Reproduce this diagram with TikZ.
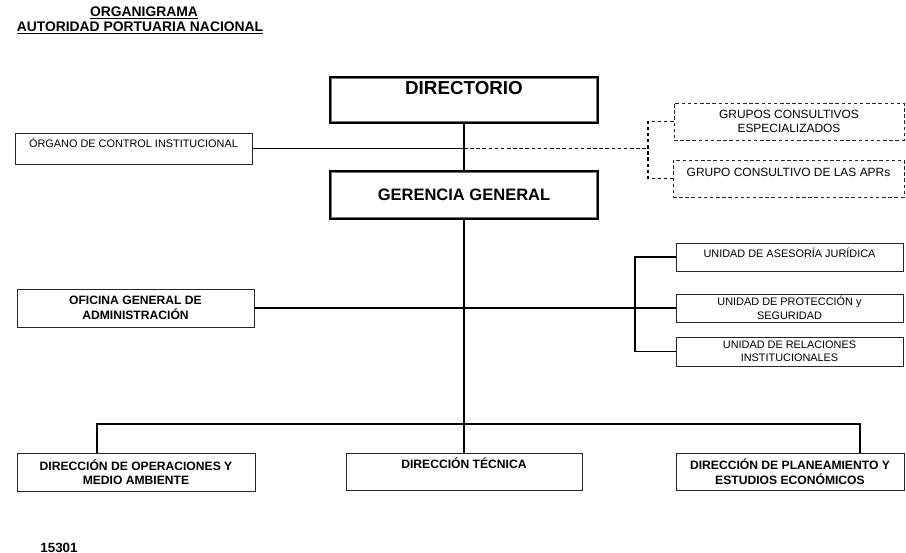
\documentclass[tikz,border=0pt]{standalone}
\usepackage{fontspec}
\setmainfont{Liberation Sans}

\begin{document}
\begin{tikzpicture}[x=0.02cm,y=-0.02cm]
\tikzset{unit/.style = {shape=rectangle,draw=black!85,line width=0.5pt,align=center,inner sep=1pt,font=\fontsize{6.2}{7.6}\selectfont}}
\tikzset{bunit/.style = {unit,font=\fontsize{6.9}{8.2}\selectfont\bfseries}}
\tikzset{advisor/.style = {unit,dash pattern=on 2pt off 1.5pt,font=\fontsize{6.8}{7.8}\selectfont}}
\tikzset{head/.style = {shape=rectangle,draw,line width=1.6pt,inner sep=1pt}}
\tikzset{link/.style = {line width=0.8pt}}
\tikzset{dlink/.style = {line width=0.6pt,dash pattern=on 2pt off 1.5pt}}
\useasboundingbox (0,0) rectangle (906,553);
% title
\node[font=\fontsize{7.9}{9}\selectfont\bfseries] (org) at (144,13) {\underline{ORGANIGRAMA}};
\node[font=\fontsize{7.9}{9}\selectfont\bfseries] (apn) at (140,28) {\underline{AUTORIDAD PORTUARIA NACIONAL}};
% vertices
\node[head,minimum width=5.36cm,minimum height=0.92cm,text depth=13.6pt,
      font=\fontsize{10.7}{12}\selectfont\bfseries] (dir) at (464,100) {DIRECTORIO};
\node[head,minimum width=5.36cm,minimum height=0.96cm,
      font=\fontsize{9.4}{11}\selectfont\bfseries] (ger) at (464,195) {GERENCIA GENERAL};
\node[unit,minimum width=4.74cm,minimum height=0.62cm,text depth=6pt] (oci) at (133.5,148.5) {ÓRGANO DE CONTROL INSTITUCIONAL};
\node[advisor,minimum width=4.6cm,minimum height=0.74cm] (gce) at (789,121.5) {GRUPOS CONSULTIVOS\\ESPECIALIZADOS};
\node[advisor,minimum width=4.62cm,minimum height=0.74cm,text depth=7pt] (gca) at (788.5,178.5) {GRUPO CONSULTIVO DE LAS APRs};
\node[bunit,minimum width=4.74cm,minimum height=0.76cm] (oga) at (135.5,308) {OFICINA GENERAL DE\\ADMINISTRACIÓN};
\node[unit,minimum width=4.54cm,minimum height=0.56cm,text depth=4.5pt] (uaj) at (789.5,257) {UNIDAD DE ASESORÍA JURÍDICA};
\node[unit,minimum width=4.54cm,minimum height=0.56cm] (upr) at (789.5,308) {UNIDAD DE PROTECCIÓN y\\SEGURIDAD};
\node[unit,minimum width=4.54cm,minimum height=0.58cm] (uri) at (789.5,351.5) {UNIDAD DE RELACIONES\\INSTITUCIONALES};
\node[bunit,minimum width=4.76cm,minimum height=0.76cm] (dom) at (136,472) {DIRECCIÓN DE OPERACIONES Y\\MEDIO AMBIENTE};
\node[bunit,minimum width=4.72cm,minimum height=0.74cm,text depth=9.6pt] (dte) at (464,471.5) {DIRECCIÓN TÉCNICA};
\node[bunit,minimum width=4.56cm,minimum height=0.74cm] (dpe) at (790,471.5) {DIRECCIÓN DE PLANEAMIENTO Y\\ESTUDIOS ECONÓMICOS};
\node[font=\fontsize{7.6}{9}\selectfont\bfseries] (num) at (59,548) {15301};
% inner frame of the two heads
\foreach \n in {dir,ger}
  \draw[line width=0.4pt,black!55] ([shift={(3,3)}]\n.north west) rectangle ([shift={(-3,-3)}]\n.south east);
% junctions
\coordinate (j1) at (464,148.5);
\coordinate (gb) at (648,148.5);
\coordinate (ub) at (635,308);
\coordinate (bl) at (97,424);
\coordinate (br) at (860,424);
%edges
\draw[link] (dir.south) -- (ger.north);
\draw[link] (oci.east) -- (j1);
\draw[dlink] (j1) -- (gb);
\draw[dlink] (gce.west) -- (gce.west -| gb) -- (gca.west -| gb) -- (gca.west);
\draw[link] (ger.south) -- (dte.north);
\draw[link] (oga.east) -- (ub);
\draw[link] (uaj.west) -- (uaj.west -| ub) -- (uri.west -| ub) -- (uri.west);
\draw[link] (ub) -- (upr.west);
\draw[link] (bl |- dom.north) -- (bl) -- (br) -- (br |- dpe.north);
\end{tikzpicture}
\end{document}
